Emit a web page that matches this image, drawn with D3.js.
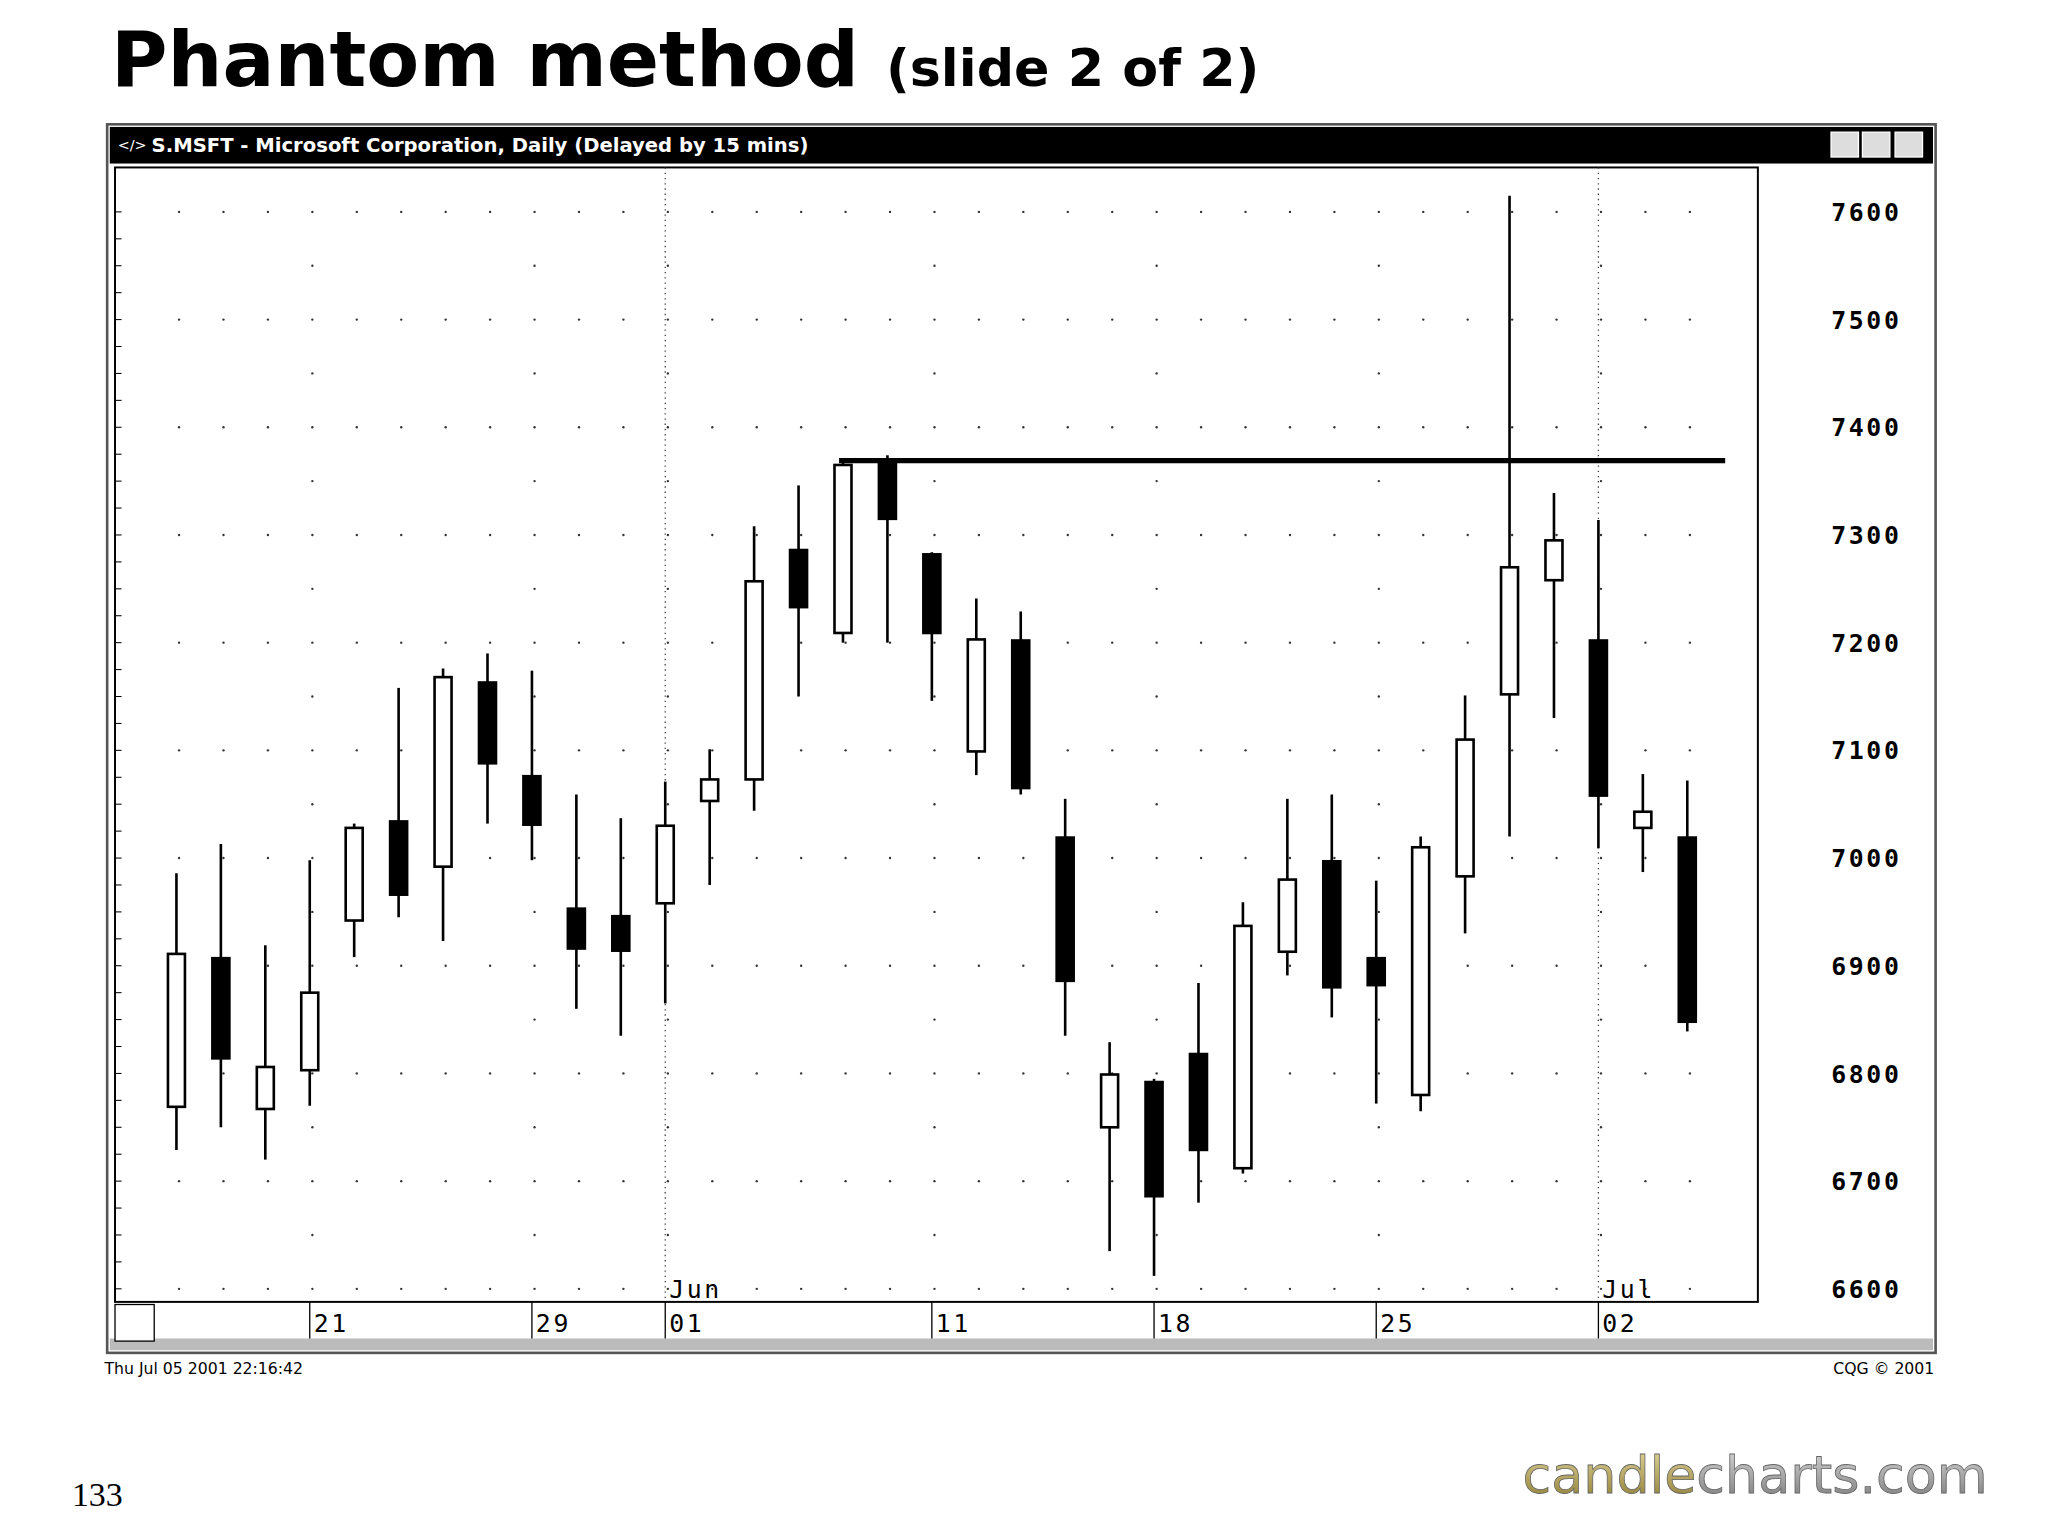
<!DOCTYPE html>
<html><head><meta charset="utf-8">
<script src="https://cdn.jsdelivr.net/npm/d3@7"></script>
<style>body{margin:0;background:#fff}svg{display:block}</style>
</head><body>
<svg id="c" width="2048" height="1536" viewBox="0 0 1567 1175"></svg>
<script>
// trading days, May 16 - Jul 5 2001
const days = ['05-16','05-17','05-18','05-21','05-22','05-23','05-24','05-25','05-29','05-30','05-31',
  '06-01','06-04','06-05','06-06','06-07','06-08','06-11','06-12','06-13','06-14','06-15',
  '06-18','06-19','06-20','06-21','06-22','06-25','06-26','06-27','06-28','06-29','07-02','07-03','07-05']
const opens  = [6769,6907,6767,6803,6942,7034,6992,7163,7076,6953,6946,6958,7053,7073,7286,7209,7366,7282,7099,7202,7019,6750,6792,6818,6712,6913,6997,6907,6780,6983,7152,7258,7202,7028,7019]
const highs  = [6986,7013,6919,6998,7032,7158,7176,7190,7174,7059,7037,7071,7101,7308,7346,7369,7374,7284,7241,7229,7055,6829,6795,6884,6959,7055,7059,6979,7020,7151,7615,7339,7314,7078,7072]
const lows   = [6729,6750,6720,6770,6908,6945,6923,7032,6998,6860,6835,6865,6975,7044,7150,7200,7200,7146,7077,7059,6835,6635,6612,6680,6707,6891,6852,6772,6765,6930,7020,7130,7009,6987,6839]
const closes = [6911,6814,6806,6875,7028,6966,7168,7088,7031,6916,6914,7030,7073,7257,7233,7365,7315,7209,7203,7065,6886,6799,6686,6729,6937,6980,6880,6882,7010,7110,7270,7295,7058,7043,6848]
const priceTicks = [6600,6700,6800,6900,7000,7100,7200,7300,7400,7500,7600]
const dateTicks = [['05-21','21'],['05-29','29'],['06-01','01'],['06-11','11'],['06-18','18'],['06-25','25'],['07-02','02']]
const monthMarks = [['06-01','Jun'],['07-02','Jul']]
const resistance = { from: '06-07', to: 7369 }

const svg = d3.select('#c')
const plot = { left: 88, right: 1345, top: 128, bottom: 996 }

const x = d3.scalePoint().domain(days).range([135, 135 + 34 * (days.length - 1)])
const y = d3.scaleLinear().domain([6600, 7600]).range([986, 162])

// title
const title = svg.append('text').attr('x', 85).attr('y', 66)
  .attr('font-family', 'DejaVu Sans').attr('font-weight', 'bold')
title.append('tspan').attr('font-size', 59).text('Phantom method ')
title.append('tspan').attr('font-size', 40).text('(slide 2 of 2)')

// window frame
svg.append('rect').attr('x', 82).attr('y', 95).attr('width', 1399).attr('height', 940)
  .attr('fill', '#fff').attr('stroke', '#555').attr('stroke-width', 2)
svg.append('rect').attr('x', 84).attr('y', 97).attr('width', 1395).attr('height', 28).attr('fill', '#000')
svg.append('text').attr('x', 90).attr('y', 115).attr('fill', '#fff').attr('font-size', 11)
  .attr('font-family', 'DejaVu Sans').text('</>')
svg.append('text').attr('x', 116).attr('y', 116).attr('fill', '#fff').attr('font-size', 15)
  .attr('font-family', 'DejaVu Sans').attr('font-weight', 'bold')
  .text('S.MSFT - Microsoft Corporation, Daily (Delayed by 15 mins)')
;[1401, 1425, 1450].forEach(bx => {
  svg.append('rect').attr('x', bx).attr('y', 101).attr('width', 21).attr('height', 19)
    .attr('fill', '#ddd').attr('stroke', '#fff')
})
svg.append('rect').attr('x', 84).attr('y', 1024).attr('width', 1395).attr('height', 9)
  .attr('fill', '#bbb')

// plot area
svg.append('rect').attr('x', plot.left).attr('y', plot.top)
  .attr('width', plot.right - plot.left).attr('height', plot.bottom - plot.top)
  .attr('fill', '#fff').attr('stroke', '#000').attr('stroke-width', 1.5)
// left edge ticks
d3.range(6600, 7625, 25).forEach(v => {
  svg.append('line').attr('x1', plot.left).attr('x2', plot.left + 5)
    .attr('y1', y(v)).attr('y2', y(v)).attr('stroke', '#000').attr('stroke-width', 0.8)
})

// dotted grid
const dots = svg.append('g').attr('fill', '#333')
d3.range(6600, 7650, 50).forEach(v => {
  const cols = v % 100 === 0 ? days : dateTicks.map(d => d[0])
  cols.forEach(d => dots.append('circle').attr('cx', x(d) + 2).attr('cy', y(v)).attr('r', 0.9))
})
monthMarks.forEach(([d]) => {
  svg.append('line').attr('x1', x(d)).attr('x2', x(d)).attr('y1', plot.top).attr('y2', plot.bottom)
    .attr('stroke', '#444').attr('stroke-dasharray', '1,3')
})

// right axis
const yAxis = svg.append('g').attr('transform', `translate(1428,0)`)
priceTicks.forEach(v => {
  yAxis.append('text').attr('y', y(v) + 7).attr('text-anchor', 'middle')
    .attr('font-family', 'DejaVu Sans Mono').attr('font-weight', 'bold').attr('font-size', 19)
    .attr('letter-spacing', 2).text(v)
})

// x axis band
svg.append('rect').attr('x', 88).attr('y', 998).attr('width', 30).attr('height', 28)
  .attr('fill', '#fff').attr('stroke', '#000')
dateTicks.forEach(([d, lab]) => {
  svg.append('line').attr('x1', x(d)).attr('x2', x(d)).attr('y1', 996).attr('y2', 1024)
    .attr('stroke', '#000')
  svg.append('text').attr('x', x(d) + 3).attr('y', 1019).attr('font-size', 19)
    .attr('font-family', 'DejaVu Sans Mono').attr('letter-spacing', 2).text(lab)
})
monthMarks.forEach(([d, lab]) => {
  svg.append('text').attr('x', x(d) + 3).attr('y', 993).attr('font-size', 19)
    .attr('font-family', 'DejaVu Sans Mono').attr('letter-spacing', 2).text(lab)
})

// candles
const bw = 13
const candles = svg.append('g').selectAll('g').data(days).join('g')
candles.append('line')
  .attr('x1', d => x(d)).attr('x2', d => x(d))
  .attr('y1', (d, i) => y(highs[i])).attr('y2', (d, i) => y(lows[i]))
  .attr('stroke', '#000').attr('stroke-width', 2)
candles.append('rect')
  .attr('x', d => x(d) - bw / 2).attr('width', bw)
  .attr('y', (d, i) => y(Math.max(opens[i], closes[i])))
  .attr('height', (d, i) => Math.max(2, Math.abs(y(opens[i]) - y(closes[i]))))
  .attr('fill', (d, i) => closes[i] >= opens[i] ? '#fff' : '#000')
  .attr('stroke', '#000').attr('stroke-width', 2)

// resistance line
svg.append('line').attr('x1', x(resistance.from) - 3).attr('x2', 1320)
  .attr('y1', y(resistance.to)).attr('y2', y(resistance.to))
  .attr('stroke', '#000').attr('stroke-width', 4)

// footer
svg.append('text').attr('x', 80).attr('y', 1051).attr('font-size', 12)
  .attr('font-family', 'DejaVu Sans').text('Thu Jul 05 2001 22:16:42')
svg.append('text').attr('x', 1480).attr('y', 1051).attr('font-size', 12).attr('text-anchor', 'end')
  .attr('font-family', 'DejaVu Sans').text('CQG © 2001')
svg.append('text').attr('x', 55).attr('y', 1152).attr('font-size', 26)
  .attr('font-family', 'Liberation Serif').text('133')

// logo
const defs = svg.append('defs')
const grad = defs.append('linearGradient').attr('id', 'gold').attr('x1', 0).attr('x2', 0).attr('y1', 0).attr('y2', 1)
grad.append('stop').attr('offset', '0%').attr('stop-color', '#e8dca0')
grad.append('stop').attr('offset', '100%').attr('stop-color', '#8a7a30')
const grad2 = defs.append('linearGradient').attr('id', 'grey').attr('x1', 0).attr('x2', 0).attr('y1', 0).attr('y2', 1)
grad2.append('stop').attr('offset', '0%').attr('stop-color', '#ddd')
grad2.append('stop').attr('offset', '100%').attr('stop-color', '#777')
const logo = svg.append('text').attr('x', 1165).attr('y', 1142).attr('font-size', 40)
  .attr('font-family', 'DejaVu Sans').attr('stroke', '#666').attr('stroke-width', 0.6)
logo.append('tspan').attr('fill', 'url(#gold)').text('candle')
logo.append('tspan').attr('fill', 'url(#grey)').text('charts.com')
</script>
</body></html>
